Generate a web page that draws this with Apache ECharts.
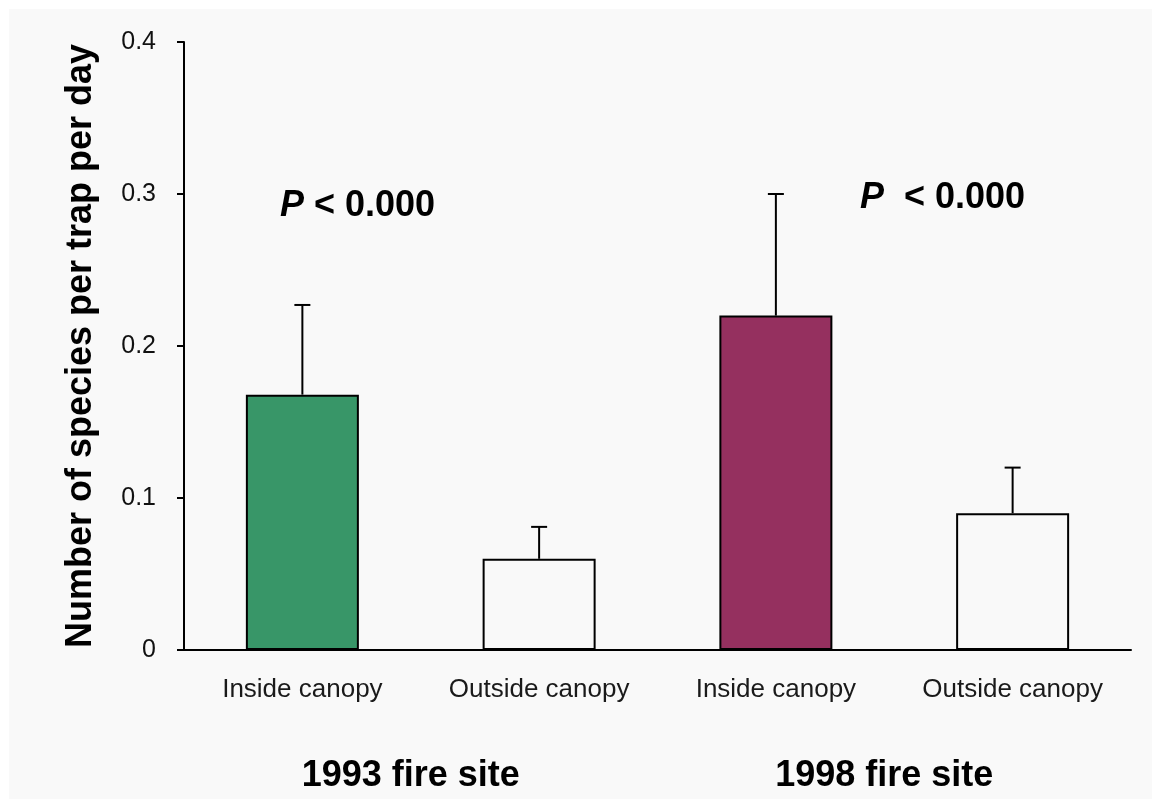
<!DOCTYPE html>
<html>
<head>
<meta charset="utf-8">
<script src="https://cdn.jsdelivr.net/npm/echarts@6/dist/echarts.min.js"></script>
<style>
  html, body { margin: 0; padding: 0; background: #ffffff; }
  #chart { width: 1153px; height: 799px; }
</style>
</head>
<body>
<div id="chart"></div>
<script>
// ---- data ----
const categories = ['Inside canopy', 'Outside canopy', 'Inside canopy', 'Outside canopy'];
const groups = ['1993 fire site', '1998 fire site'];
const means = [0.168, 0.060, 0.220, 0.090];
const upper = [0.227, 0.081, 0.300, 0.120];
const pTexts = ['P < 0.000', 'P < 0.000'];
const yTicks = [0, 0.1, 0.2, 0.3, 0.4];

// ---- styles ----
const barColors = ['#389668', '#f9f9f9', '#95305f', '#f9f9f9'];
const FONT = 'Liberation Sans, Arial, sans-serif';

const chart = echarts.init(document.getElementById('chart'));

const errData = categories.map((c, i) => [i, means[i], upper[i]]);

function pGraphic(text, x, y) {
  const m = text.match(/^P(.*)$/);
  return {
    type: 'text', x: x, y: y, z: 10,
    style: {
      text: '{p|P}{r|' + (m ? m[1] : text) + '}',
      rich: {
        p: { fontStyle: 'italic', fontWeight: 'bold', fontSize: 36, fontFamily: FONT, fill: '#000' },
        r: { fontWeight: 'bold', fontSize: 36, fontFamily: FONT, fill: '#000' }
      },
      verticalAlign: 'middle'
    }
  };
}

const option = {
  animation: false,
  backgroundColor: '#ffffff',
  graphic: [
    { type: 'rect', z: -10, shape: { x: 9, y: 9, width: 1143, height: 790 }, style: { fill: '#f9f9f9' } },
    pGraphic(pTexts[0], 280, 206),
    pGraphic(pTexts[1].replace(' <', '  <'), 860, 198)
  ],
  grid: { left: 184, right: 22, top: 42, bottom: 149, containLabel: false },
  xAxis: [
    {
      type: 'category',
      data: categories,
      position: 'bottom',
      axisLine: { show: true, lineStyle: { color: '#000', width: 2 } },
      axisTick: { show: false },
      axisLabel: { margin: 27, fontSize: 26, fontFamily: FONT, color: '#1a1a1a' },
      splitLine: { show: false }
    },
    {
      type: 'category',
      data: groups,
      position: 'bottom',
      axisLine: { show: false },
      axisTick: { show: false },
      axisLabel: { margin: 108, fontSize: 36, fontWeight: 'bold', fontFamily: FONT, color: '#000', padding: [0, 20, 0, 0] },
      splitLine: { show: false }
    }
  ],
  yAxis: {
    type: 'value',
    min: yTicks[0],
    max: yTicks[yTicks.length - 1],
    interval: 0.1,
    name: 'Number of species per trap per day',
    nameLocation: 'middle',
    nameGap: 85,
    nameTextStyle: { fontSize: 36, fontWeight: 'bold', fontFamily: FONT, color: '#000' },
    axisLine: { show: true, lineStyle: { color: '#000', width: 2 } },
    axisTick: { show: true, inside: false, length: 7, lineStyle: { color: '#000', width: 2 } },
    axisLabel: {
      margin: 28, fontSize: 25, fontFamily: FONT, color: '#111',
      formatter: v => (v === 0 ? '0' : v.toFixed(1))
    },
    splitLine: { show: false }
  },
  series: [
    {
      type: 'bar',
      xAxisIndex: 0,
      barWidth: 113,
      data: means.map((v, i) => ({ value: v, itemStyle: { color: barColors[i] } })),
      itemStyle: { borderColor: '#000', borderWidth: 2 },
      z: 2
    },
    {
      type: 'custom',
      xAxisIndex: 0,
      data: errData,
      encode: { x: 0, y: [1, 2] },
      z: 3,
      renderItem: function (params, api) {
        const x = api.value(0);
        const lo = api.coord([x, api.value(1)]);
        const hi = api.coord([x, api.value(2)]);
        const st = { stroke: '#000', lineWidth: 2 };
        return {
          type: 'group',
          children: [
            { type: 'line', shape: { x1: lo[0], y1: lo[1], x2: hi[0], y2: hi[1] }, style: st },
            { type: 'line', shape: { x1: hi[0] - 8, y1: hi[1], x2: hi[0] + 8, y2: hi[1] }, style: st }
          ]
        };
      }
    }
  ]
};

chart.setOption(option);
</script>
</body>
</html>
